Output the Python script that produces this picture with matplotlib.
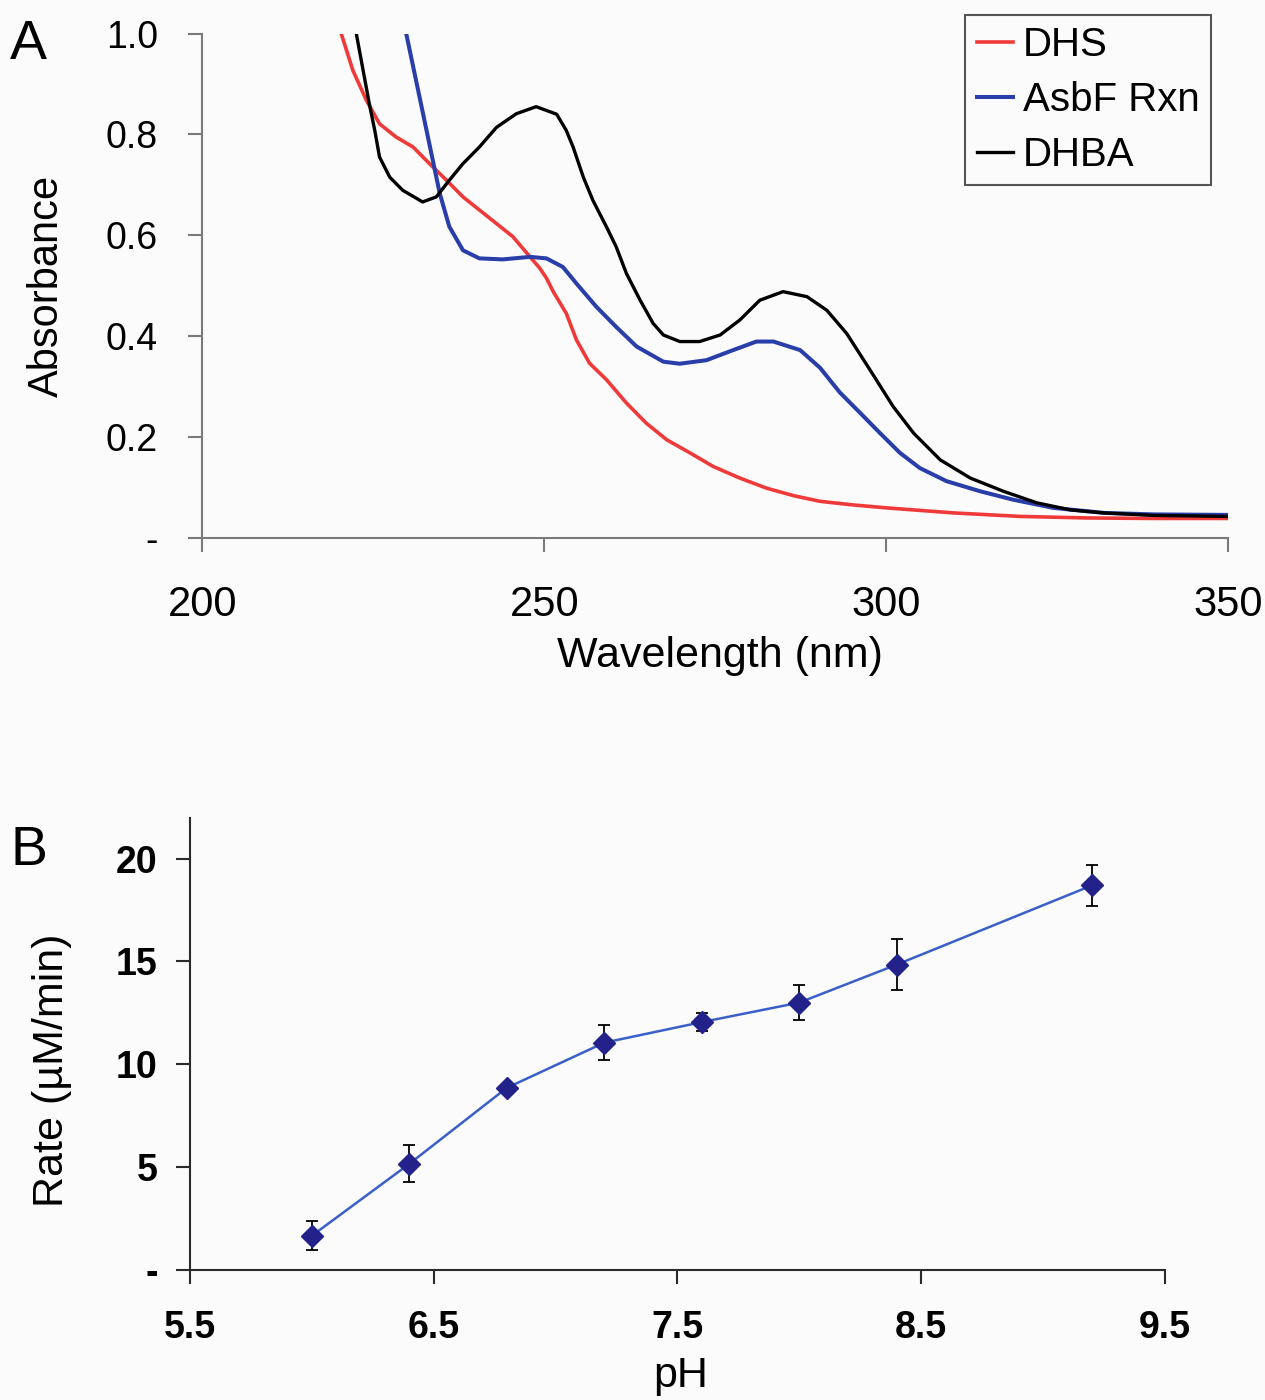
import matplotlib
matplotlib.use('Agg')
import matplotlib.pyplot as plt
from matplotlib import font_manager

# ---- data ----
# panel A: UV-vis spectra (wavelength nm, absorbance)
dhs_nm = [220.3, 222.0, 224.0, 225.9, 228.3, 230.8, 233.2, 235.7, 238.1, 240.5, 243.0,
          245.4, 247.9, 249.3, 250.3, 251.3, 253.2, 254.7, 256.6, 259.1, 262.0, 264.9,
          267.9, 271.3, 274.7, 278.6, 282.5, 286.5, 290.3, 295.0, 300.0, 309.8, 319.6,
          329.3, 339.1, 350.0]
dhs_abs = [1.0, 0.927, 0.867, 0.821, 0.795, 0.775, 0.742, 0.709, 0.676, 0.650, 0.623,
           0.597, 0.557, 0.535, 0.515, 0.488, 0.445, 0.392, 0.346, 0.313, 0.267, 0.227,
           0.194, 0.168, 0.141, 0.118, 0.098, 0.083, 0.072, 0.065, 0.059, 0.049, 0.042,
           0.039, 0.038, 0.038]

asbf_nm = [229.8, 232.2, 234.7, 236.1, 238.1, 240.5, 243.9, 247.9, 250.3, 252.7, 254.7,
           257.6, 260.5, 263.5, 267.4, 269.8, 273.7, 277.6, 281.0, 283.5, 287.4, 290.3,
           293.2, 296.2, 299.1, 302.0, 304.9, 308.8, 313.7, 318.6, 324.4, 331.8, 339.1,
           350.0]
asbf_abs = [1.0, 0.845, 0.683, 0.617, 0.570, 0.554, 0.552, 0.557, 0.554, 0.537, 0.504,
            0.458, 0.418, 0.379, 0.349, 0.345, 0.352, 0.372, 0.389, 0.389, 0.372, 0.337,
            0.288, 0.247, 0.207, 0.168, 0.138, 0.112, 0.092, 0.075, 0.059, 0.049, 0.046,
            0.045]

dhba_nm = [222.5, 223.5, 224.4, 225.2, 225.9, 227.4, 229.3, 232.2, 234.2, 236.1, 238.1,
           240.5, 243.0, 245.9, 248.8, 251.8, 253.2, 254.2, 255.7, 257.1, 259.1, 260.5,
           262.0, 264.0, 265.9, 267.4, 269.8, 272.7, 275.7, 278.6, 281.5, 284.9, 288.4,
           291.3, 294.2, 297.6, 301.0, 304.0, 307.9, 312.3, 317.1, 322.0, 326.9, 331.8,
           339.1, 350.0]
dhba_abs = [1.0, 0.927, 0.861, 0.808, 0.755, 0.715, 0.689, 0.666, 0.676, 0.709, 0.742,
            0.775, 0.814, 0.841, 0.855, 0.840, 0.808, 0.775, 0.715, 0.669, 0.616, 0.577,
            0.524, 0.471, 0.425, 0.402, 0.389, 0.389, 0.402, 0.432, 0.471, 0.488, 0.478,
            0.451, 0.405, 0.333, 0.260, 0.207, 0.154, 0.118, 0.092, 0.069, 0.055, 0.049,
            0.044, 0.042]

# panel B: rate vs pH
ph = [6.0, 6.4, 6.8, 7.2, 7.6, 8.0, 8.4, 9.2]
rate = [1.65, 5.15, 8.85, 11.05, 12.05, 13.0, 14.85, 18.7]
rate_err = [0.7, 0.9, 0.2, 0.85, 0.45, 0.85, 1.25, 1.0]

a_yticks = [0, 0.2, 0.4, 0.6, 0.8, 1.0]
a_yticklabels = ['-', '0.2', '0.4', '0.6', '0.8', '1.0']
a_xticks = [200, 250, 300, 350]
b_yticks = [0, 5, 10, 15, 20]
b_yticklabels = ['-', '5', '10', '15', '20']
b_xticks = [5.5, 6.5, 7.5, 8.5, 9.5]

# fonts
names = set(f.name for f in font_manager.fontManager.ttflist)
arial = 'Liberation Sans'
narrow = 'Liberation Sans Narrow' if 'Liberation Sans Narrow' in names else 'Liberation Sans'
plt.rcParams['font.family'] = [arial, 'DejaVu Sans']

bg = '#fbfbfb'
fig = plt.figure(figsize=(12.65, 14), dpi=100, facecolor=bg)

# ---------- panel A ----------
axA = fig.add_axes([0.160, 0.616, 0.811, 0.360])
axA.set_facecolor(bg)
axA.plot(dhs_nm, dhs_abs, color='#f03a3a', lw=2.6, label='DHS')
axA.plot(asbf_nm, asbf_abs, color='#2a3eaa', lw=2.9, label='AsbF Rxn')
axA.plot(dhba_nm, dhba_abs, color='black', lw=2.4, label='DHBA')
axA.set_xlim(200, 350)
axA.set_ylim(0, 1.0)
axA.set_yticks(a_yticks)
axA.set_yticklabels(a_yticklabels)
axA.set_xticks(a_xticks)
for s in ['top', 'right']:
    axA.spines[s].set_visible(False)
for s in ['left', 'bottom']:
    axA.spines[s].set_color('#7a7a7a')
    axA.spines[s].set_linewidth(1.5)
axA.tick_params(axis='y', direction='out', length=10, width=1.5, color='#7a7a7a',
                pad=22, labelsize=27)
axA.tick_params(axis='x', direction='out', length=10, width=1.5, color='#7a7a7a',
                pad=24, labelsize=30)
for t in axA.get_xticklabels():
    t.set_fontfamily(narrow)
axA.set_ylabel('Absorbance', fontsize=30)
axA.yaxis.set_label_coords(-0.132, 0.5)
axA.set_xlabel('Wavelength (nm)', fontsize=31, fontfamily=narrow)
axA.xaxis.set_label_coords(0.504, -0.195)
leg = axA.legend(loc='upper right', bbox_to_anchor=(0.983, 1.037), fontsize=29,
                 frameon=True, fancybox=False, handlelength=0.9, handletextpad=0.25,
                 borderpad=0.28, labelspacing=0.42, borderaxespad=0)
leg.get_frame().set_edgecolor('#555555')
leg.get_frame().set_linewidth(1.5)
leg.get_frame().set_facecolor(bg)
leg.get_frame().set_alpha(1)
fig.text(0.008, 0.968, 'A', fontsize=40, va='center', ha='left')

# ---------- panel B ----------
axB = fig.add_axes([0.150, 0.093, 0.771, 0.323])
axB.set_facecolor(bg)
axB.errorbar(ph, rate, yerr=rate_err, fmt='none', ecolor='black', elinewidth=1.3,
             capsize=4, capthick=1.3, zorder=2)
axB.plot(ph, rate, color='#3a5fc8', lw=1.8, marker='D', markersize=11,
         markerfacecolor='#22228a', markeredgecolor='#22228a', zorder=3)
axB.set_xlim(5.5, 9.5)
axB.set_ylim(0, 22)
axB.set_yticks(b_yticks)
axB.set_yticklabels(b_yticklabels)
axB.set_xticks(b_xticks)
for s in ['top', 'right']:
    axB.spines[s].set_visible(False)
for s in ['left', 'bottom']:
    axB.spines[s].set_color('#2a2a2a')
    axB.spines[s].set_linewidth(1.5)
axB.tick_params(axis='y', direction='out', length=10, width=1.5, color='#2a2a2a',
                pad=13, labelsize=27)
axB.tick_params(axis='x', direction='out', length=10, width=1.5, color='#2a2a2a',
                pad=19, labelsize=27)
for t in axB.get_xticklabels() + axB.get_yticklabels():
    t.set_fontweight('bold')
axB.set_ylabel('Rate (µM/min)', fontsize=31)
axB.yaxis.set_label_coords(-0.121, 0.442)
axB.set_xlabel('pH', fontsize=31)
axB.xaxis.set_label_coords(0.503, -0.19)
fig.text(0.008, 0.392, 'B', fontsize=40, va='center', ha='left')

fig.savefig('out.png', dpi=100, facecolor=bg)
